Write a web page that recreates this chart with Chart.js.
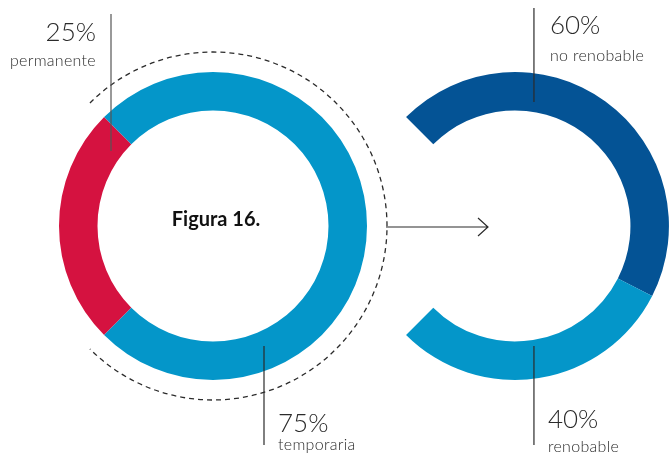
<!DOCTYPE html>
<html>
<head>
<meta charset="utf-8">
<script src="https://cdn.jsdelivr.net/npm/chart.js@4.4.0/dist/chart.umd.min.js"></script>
<style>
  html, body { margin: 0; padding: 0; background: #ffffff; }
  #wrap { position: relative; width: 670px; height: 456px; overflow: hidden; }
  #wrap canvas { position: absolute; left: 0; top: 0; }
</style>
</head>
<body>
<div id="wrap">
  <canvas id="c1" width="670" height="456"></canvas>
  <canvas id="c2" width="670" height="456"></canvas>
</div>
<script>
// ---- data ----
const figureTitle = 'Figura 16.';
const leftLabels = ['permanente', 'temporaria'];
const leftValues = [25, 75];
const leftColors = ['#D51240', '#0496C9'];
const rightLabels = ['no renobable', 'renobable'];
const rightValues = [60, 40];
const rightColors = ['#045395', '#0496C9'];

const ink = '#2b2b2b';
const numFont = '300 26px Lato, "Open Sans", sans-serif';
const wordFont = '300 16px Lato, "Open Sans", sans-serif';

function pct(v) { return v + '%'; }

function drawLabel(ctx, x, yNum, yWord, align, num, word) {
  ctx.save();
  ctx.fillStyle = ink;
  ctx.textAlign = align;
  ctx.textBaseline = 'alphabetic';
  ctx.font = numFont;
  ctx.fillText(num, x, yNum);
  ctx.font = wordFont;
  if ('letterSpacing' in ctx) ctx.letterSpacing = '0.3px';
  ctx.fillText(word, x, yWord);
  ctx.restore();
}

function vline(ctx, x, y1, y2, color) {
  ctx.save();
  ctx.strokeStyle = color || ink;
  ctx.lineWidth = 1.2;
  ctx.beginPath();
  ctx.moveTo(x, y1);
  ctx.lineTo(x, y2);
  ctx.stroke();
  ctx.restore();
}

const leftDecor = {
  id: 'leftDecor',
  afterDatasetsDraw(chart) {
    const ctx = chart.ctx;
    const meta = chart.getDatasetMeta(0);
    const blue = meta.data[1];
    const cx = blue.x, cy = blue.y, R = blue.outerRadius;
    // dashed arc around the larger segment
    ctx.save();
    ctx.strokeStyle = ink;
    ctx.lineWidth = 1.3;
    ctx.setLineDash([5, 4]);
    ctx.beginPath();
    ctx.arc(cx, cy, R + 20, blue.startAngle, blue.endAngle);
    ctx.stroke();
    ctx.restore();
    // arrow to the right chart
    const ax1 = cx + R + 19, ay = cy + 1, ax2 = cx + R + 121;
    ctx.save();
    ctx.strokeStyle = ink;
    ctx.lineWidth = 1.2;
    ctx.beginPath();
    ctx.moveTo(ax1, ay); ctx.lineTo(ax2, ay);
    ctx.moveTo(ax2 - 10, ay - 9); ctx.lineTo(ax2, ay); ctx.lineTo(ax2 - 10, ay + 9);
    ctx.stroke();
    ctx.restore();
    // leader lines and labels
    vline(ctx, cx - 102, 14, cy - 75, '#555');
    drawLabel(ctx, cx - 117, 41, 66, 'right', pct(leftValues[0]), leftLabels[0]);
    vline(ctx, cx + 51, cy + 120, cy + 219);
    drawLabel(ctx, cx + 65, 432, 450, 'left', pct(leftValues[1]), leftLabels[1]);
    // title
    ctx.save();
    ctx.fillStyle = '#111';
    ctx.font = 'bold 20px Lato, "Open Sans", sans-serif';
    ctx.textAlign = 'center';
    ctx.textBaseline = 'alphabetic';
    ctx.fillText(figureTitle, cx + 3, cy);
    ctx.restore();
  }
};

const rightDecor = {
  id: 'rightDecor',
  afterDatasetsDraw(chart) {
    const ctx = chart.ctx;
    const arc = chart.getDatasetMeta(0).data[0];
    const cx = arc.x, cy = arc.y;
    vline(ctx, cx + 19, 8, cy - 124);
    drawLabel(ctx, cx + 35, 34, 61, 'left', pct(rightValues[0]), rightLabels[0]);
    vline(ctx, cx + 19, cy + 120, cy + 219);
    drawLabel(ctx, cx + 33, 428, 452, 'left', pct(rightValues[1]), rightLabels[1]);
  }
};

const common = {
  responsive: false,
  animation: false,
  events: [],
  plugins: { legend: { display: false }, tooltip: { enabled: false } }
};

new Chart(document.getElementById('c1'), {
  type: 'doughnut',
  data: {
    labels: leftLabels,
    datasets: [{ data: leftValues, backgroundColor: leftColors, borderWidth: 0, clip: false }]
  },
  options: Object.assign({}, common, {
    rotation: 225,
    circumference: 360,
    radius: 154,
    cutout: '75%',
    layout: { padding: { left: 0, right: 244, top: 0, bottom: 4 } }
  }),
  plugins: [leftDecor]
});

new Chart(document.getElementById('c2'), {
  type: 'doughnut',
  data: {
    labels: rightLabels,
    datasets: [{ data: rightValues, backgroundColor: rightColors, borderWidth: 0, clip: false }]
  },
  options: Object.assign({}, common, {
    rotation: -45,
    circumference: 270,
    radius: 154,
    cutout: '75%',
    layout: { padding: { left: 405, right: 0, top: 0, bottom: 4 } }
  }),
  plugins: [rightDecor]
});
</script>
</body>
</html>
